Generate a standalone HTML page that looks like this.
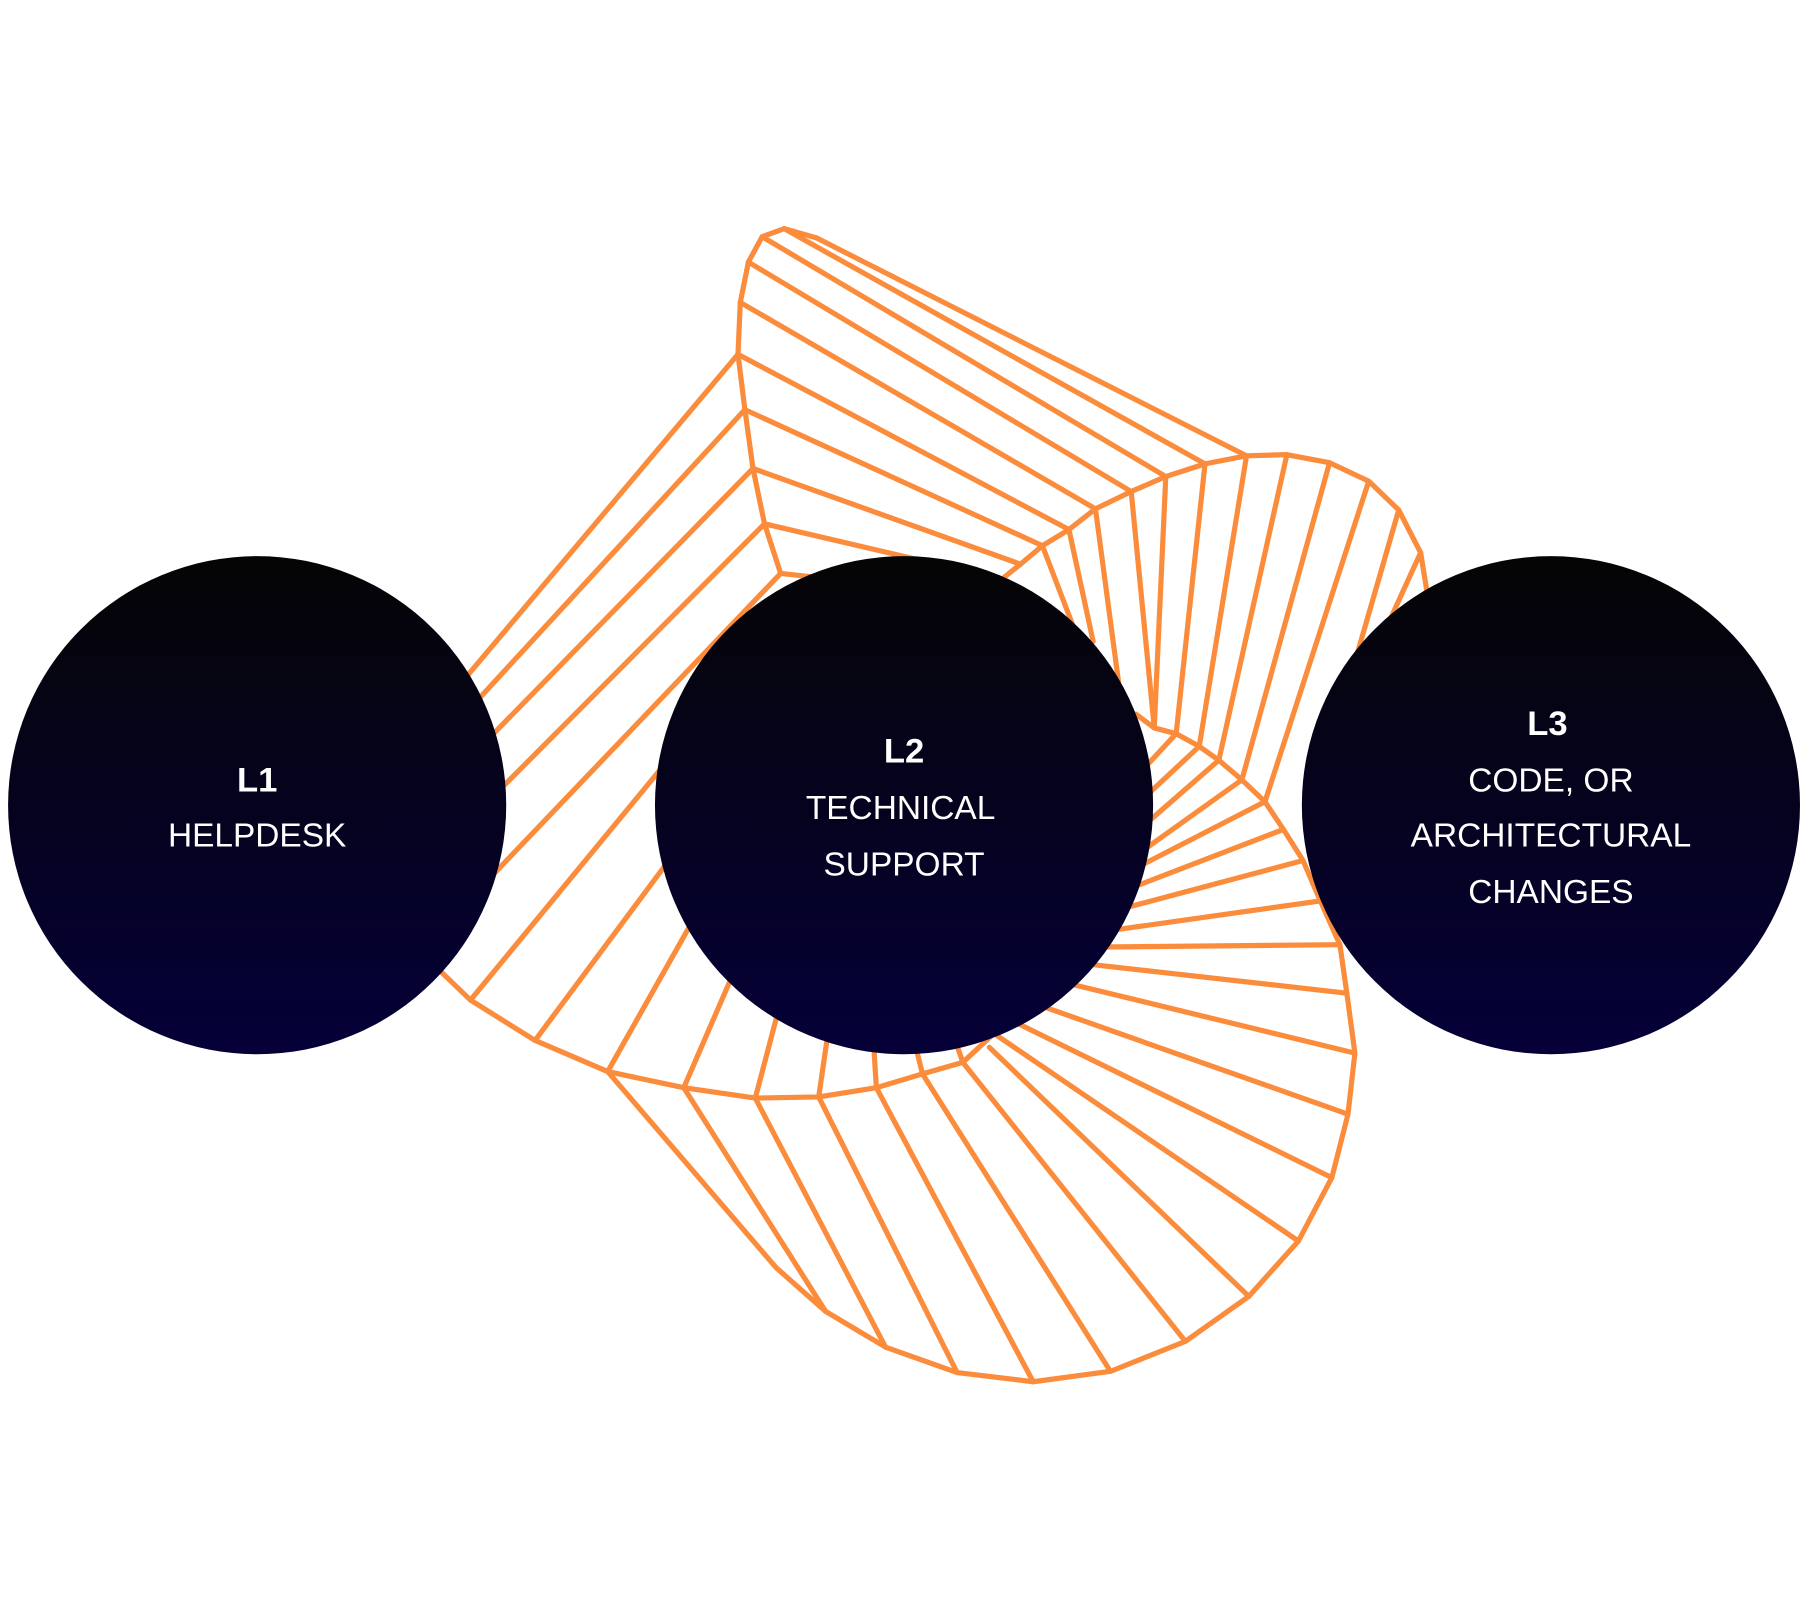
<!DOCTYPE html>
<html><head><meta charset="utf-8"><style>
html,body{margin:0;padding:0;background:#fff;}
svg{display:block}
text{font-family:"Liberation Sans",sans-serif;fill:#fff;text-anchor:middle}
</style></head><body>
<svg width="1800" height="1600" viewBox="0 0 1561 1385" xmlns="http://www.w3.org/2000/svg">
<defs>
<linearGradient id="g" x1="0" y1="0" x2="0" y2="1">
<stop offset="0" stop-color="#050505"/><stop offset="1" stop-color="#050038"/>
</linearGradient>
</defs>
<g fill="none" stroke="#fb8c3c" stroke-width="4.5" stroke-linejoin="round" stroke-linecap="round">
<polyline points="708,205 680,197 661,204 649,226 642,261 640,306 646,354 653,405 663,453 677,496"/>
<polyline points="870,500 885,488 904,472 927,458 950,440 981,425 1011,412 1045,401 1081,394 1116,393 1153,400 1187,416 1213,441 1232,478 1238,515"/>
<line x1="708" y1="205" x2="1081" y2="394"/>
<line x1="680" y1="197" x2="1045" y2="401"/>
<line x1="661" y1="204" x2="1011" y2="412"/>
<line x1="649" y1="226" x2="981" y2="425"/>
<line x1="642" y1="261" x2="950" y2="440"/>
<line x1="640" y1="306" x2="927" y2="458"/>
<line x1="646" y1="354" x2="904" y2="472"/>
<line x1="653" y1="405" x2="885" y2="488"/>
<line x1="663" y1="453" x2="800" y2="485"/>
<line x1="677" y1="496" x2="760" y2="505"/>
<line x1="904" y1="472" x2="930" y2="540"/>
<line x1="927" y1="458" x2="948" y2="555"/>
<line x1="950" y1="440" x2="970" y2="590"/>
<line x1="981" y1="425" x2="1001" y2="630"/>
<line x1="1011" y1="412" x2="1001" y2="630"/>
<line x1="1045" y1="401" x2="1020" y2="635"/>
<line x1="1081" y1="394" x2="1040" y2="646"/>
<line x1="1116" y1="393" x2="1057" y2="658"/>
<line x1="1153" y1="400" x2="1077" y2="675"/>
<line x1="1187" y1="416" x2="1097" y2="694"/>
<line x1="1213" y1="441" x2="1170" y2="590"/>
<line x1="1232" y1="478" x2="1190" y2="570"/>
<polyline points="985,618 1001,630 1020,635 1040,646 1057,658 1077,675 1097,694 1113,718 1130,745 1145,780 1162,818"/>
<line x1="1020" y1="635" x2="995" y2="662"/>
<line x1="1040" y1="646" x2="995" y2="688"/>
<line x1="1057" y1="658" x2="995" y2="712"/>
<line x1="1077" y1="675" x2="993" y2="735"/>
<line x1="1097" y1="694" x2="988" y2="750"/>
<line x1="1113" y1="718" x2="983" y2="768"/>
<line x1="1130" y1="745" x2="976" y2="786"/>
<line x1="1145" y1="780" x2="968" y2="805"/>
<polyline points="1162,818 1168,860 1175,912 1169,965 1155,1020 1126,1075 1083,1123 1028,1162 963,1188 896,1197 830,1189 768,1167 716,1136 673,1098 527,928"/>
<polyline points="955,820 945,835 920,850 900,870 880,885 862,895 835,920 800,930 760,942 710,950 655,951 593,942 527,928 464,901 408,866 383,842"/>
<line x1="955" y1="820" x2="1162" y2="818"/>
<line x1="945" y1="835" x2="1168" y2="860"/>
<line x1="920" y1="850" x2="1175" y2="912"/>
<line x1="900" y1="870" x2="1169" y2="965"/>
<line x1="880" y1="885" x2="1155" y2="1020"/>
<line x1="862" y1="895" x2="1126" y2="1075"/>
<line x1="858" y1="907" x2="1083" y2="1123"/>
<line x1="835" y1="920" x2="1028" y2="1162"/>
<line x1="800" y1="930" x2="963" y2="1188"/>
<line x1="760" y1="942" x2="896" y2="1197"/>
<line x1="710" y1="950" x2="830" y2="1189"/>
<line x1="655" y1="951" x2="768" y2="1167"/>
<line x1="593" y1="942" x2="716" y2="1136"/>
<line x1="640" y1="306" x2="405" y2="585"/>
<line x1="646" y1="354" x2="415" y2="605"/>
<line x1="653" y1="405" x2="428" y2="635"/>
<line x1="663" y1="453" x2="437" y2="680"/>
<line x1="677" y1="496" x2="425" y2="760"/>
<line x1="408" y1="866" x2="590" y2="645"/>
<line x1="464" y1="901" x2="580" y2="745"/>
<line x1="527" y1="928" x2="602" y2="795"/>
<line x1="593" y1="942" x2="635" y2="845"/>
<line x1="655" y1="951" x2="675" y2="875"/>
<line x1="710" y1="950" x2="718" y2="895"/>
<line x1="760" y1="942" x2="758" y2="910"/>
<line x1="800" y1="930" x2="795" y2="910"/>
<line x1="835" y1="920" x2="828" y2="900"/>
</g>
<circle cx="223" cy="697" r="216" fill="url(#g)"/>
<circle cx="784" cy="697" r="216" fill="url(#g)"/>
<circle cx="1345" cy="697" r="216" fill="url(#g)"/>
<text x="223" y="685" font-size="30" font-weight="bold">L1</text>
<text x="223" y="733" font-size="29">HELPDESK</text>
<text x="784" y="660" font-size="30" font-weight="bold">L2</text>
<text x="781" y="709" font-size="29">TECHNICAL</text>
<text x="784" y="758" font-size="29">SUPPORT</text>
<text x="1342" y="636" font-size="30" font-weight="bold">L3</text>
<text x="1345" y="685" font-size="29">CODE, OR</text>
<text x="1345" y="733" font-size="29">ARCHITECTURAL</text>
<text x="1345" y="782" font-size="29">CHANGES</text>
</svg>
</body></html>
